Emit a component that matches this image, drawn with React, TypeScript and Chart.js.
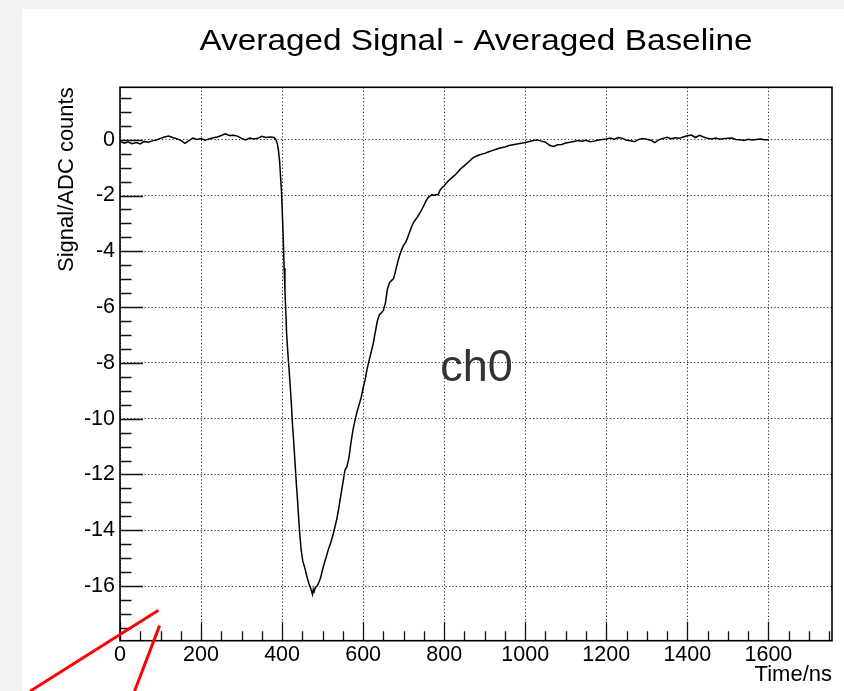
import { useEffect, useRef } from 'react';
import { Chart, registerables } from 'chart.js';

Chart.register(...registerables);

// ---- data ----
const timeNs = [
  0, 10, 20, 30, 40, 50, 60, 70, 80, 90,
  100, 110, 120, 130, 140, 150, 160, 170, 180, 190,
  200, 210, 220, 230, 240, 250, 260, 270, 280, 290,
  300, 310, 320, 330, 340, 350, 360, 370, 380, 384,
  388, 391, 394, 397, 399, 401, 403, 405, 407, 409,
  411, 414, 417, 420, 423, 426, 429, 432, 435, 438,
  441, 444, 447, 451, 456, 461, 466, 470, 473, 475,
  477, 479, 482, 486, 490, 495, 500, 505, 510, 515,
  520, 525, 530, 535, 540, 545, 550, 555, 560, 565,
  570, 575, 580, 585, 590, 595, 600, 605, 610, 615,
  620, 625, 630, 635, 640, 645, 650, 655, 660, 665,
  670, 675, 680, 685, 690, 695, 700, 705, 710, 715,
  720, 725, 730, 735, 740, 745, 750, 755, 760, 765,
  770, 775, 780, 785, 790, 795, 800, 810, 820, 830,
  840, 850, 860, 870, 880, 890, 900, 910, 920, 930,
  940, 950, 960, 970, 980, 990, 1000, 1010, 1020, 1030,
  1040, 1050, 1060, 1070, 1080, 1090, 1100, 1110, 1120, 1130,
  1140, 1150, 1160, 1170, 1180, 1190, 1200, 1210, 1220, 1230,
  1240, 1250, 1260, 1270, 1280, 1290, 1300, 1310, 1320, 1330,
  1340, 1350, 1360, 1370, 1380, 1390, 1400, 1410, 1420, 1430,
  1440, 1450, 1460, 1470, 1480, 1490, 1500, 1510, 1520, 1530,
  1540, 1550, 1560, 1570, 1580, 1590, 1600,
];

const signal = [
  -0.05, -0.12, -0.08, -0.14, -0.1, -0.15, -0.06, -0.09, -0.04, -0.01,
  0.05, 0.1, 0.13, 0.08, 0.04, -0.02, -0.13, -0.03, 0.06, 0.01,
  0.04, -0.02, 0.03, 0.07, 0.1, 0.15, 0.21, 0.15, 0.16, 0.13,
  0.05, -0.01, 0.06, 0.03, 0.05, 0.12, 0.08, 0.1, 0.08, 0.02,
  -0.12, -0.37, -0.8, -1.5, -2.0, -2.8, -3.6, -4.6, -5.4, -6.1,
  -6.9, -7.6, -8.2, -8.8, -9.5, -10.3, -10.9, -11.6, -12.3, -12.9,
  -13.6, -14.2, -14.7, -15.1, -15.35, -15.65, -15.9, -16.05, -16.2, -16.3,
  -16.12, -16.2, -16.05, -16.0, -15.9, -15.7, -15.4, -15.15, -14.9, -14.65,
  -14.45, -14.2, -13.9, -13.6, -13.2, -12.75, -12.3, -11.85, -11.72, -11.4,
  -10.85, -10.4, -10.05, -9.75, -9.5, -9.25, -8.9, -8.6, -8.2, -7.9,
  -7.6, -7.3, -6.9, -6.5, -6.28, -6.2, -6.12, -5.85, -5.35, -5.12,
  -5.05, -4.98, -4.7, -4.4, -4.15, -3.94, -3.78, -3.68, -3.5, -3.3,
  -3.1, -2.95, -2.85, -2.75, -2.62, -2.5, -2.35, -2.2, -2.08, -2.02,
  -1.97, -2.0, -1.96, -1.97, -1.8, -1.72, -1.65, -1.48, -1.35, -1.22,
  -1.05, -0.93, -0.8, -0.66, -0.58, -0.53, -0.49, -0.43, -0.38, -0.33,
  -0.29, -0.26, -0.21, -0.18, -0.15, -0.13, -0.1, -0.06, -0.03, -0.01,
  -0.05, -0.09, -0.2, -0.24, -0.18, -0.17, -0.12, -0.09, -0.06, -0.03,
  -0.05, -0.02, -0.07, -0.05, -0.01, 0.01, 0.03, 0.06, 0.02, 0.08,
  0.05, -0.02, -0.04, -0.07, 0.01, 0.04, 0.02, -0.02, -0.1, 0.0,
  0.05, 0.09, 0.04, 0.07, 0.05, 0.1, 0.14, 0.17, 0.08, 0.16,
  0.1, 0.05, 0.03, 0.06, 0.02, 0.04, 0.05, 0.06, 0.01, 0.0,
  -0.03, 0.02, -0.01, 0.01, 0.03, 0.0, 0.0,
];

const xMajorTicks = [0, 200, 400, 600, 800, 1000, 1200, 1400, 1600];
const yMajorTicks = [-16, -14, -12, -10, -8, -6, -4, -2, 0];
const xMinorStep = 50;
const yMinorStep = 0.5;
const xRange = [0, 1757];
const yRange = [-17.96, 1.88];

const titleText = 'Averaged Signal - Averaged Baseline';
const yTitleText = 'Signal/ADC counts';
const xTitleText = 'Time/ns';
const channelText = 'ch0';
const channelAnchor = [880, -8.65];

// red hand-drawn marks, in data coordinates
const redMarkA = [[-222, -19.77], [95, -16.87]];
const redMarkB = [[35.8, -19.77], [97.7, -17.42]];

const FONT = '"Liberation Sans", Arial, Helvetica, sans-serif';

const decorPlugin = {
  id: 'decor',
  beforeDraw(chart: any) {
    const ctx = chart.ctx;
    ctx.save();
    ctx.fillStyle = '#f2f2f2';
    ctx.fillRect(0, 0, chart.width, chart.height);
    ctx.fillStyle = '#ffffff';
    ctx.fillRect(22, 9, chart.width - 22, chart.height - 9);
    ctx.restore();
  },
  afterDatasetsDraw(chart: any) {
    const { ctx, chartArea: a, scales } = chart;
    const x = scales.x;
    const y = scales.y;
    ctx.save();

    // inner tick marks (major + minor)
    ctx.strokeStyle = '#111';
    ctx.lineWidth = 1.3;
    ctx.beginPath();
    const nx0 = Math.ceil(xRange[0] / xMinorStep);
    const nx1 = Math.floor(xRange[1] / xMinorStep);
    for (let k = nx0; k <= nx1; k++) {
      const v = k * xMinorStep;
      const px = Math.round(x.getPixelForValue(v)) + 0.5;
      const len = xMajorTicks.includes(v) ? 19 : 9.5;
      ctx.moveTo(px, a.bottom);
      ctx.lineTo(px, a.bottom - len);
    }
    const ny0 = Math.ceil(yRange[0] / yMinorStep);
    const ny1 = Math.floor(yRange[1] / yMinorStep);
    for (let k = ny0; k <= ny1; k++) {
      const v = k * yMinorStep;
      const py = Math.round(y.getPixelForValue(v)) + 0.5;
      const len = yMajorTicks.includes(v) ? 23 : 11.5;
      ctx.moveTo(a.left, py);
      ctx.lineTo(a.left + len, py);
    }
    ctx.stroke();

    // frame
    ctx.strokeStyle = '#000';
    ctx.lineWidth = 1.6;
    ctx.strokeRect(a.left, a.top, a.right - a.left, a.bottom - a.top);

    // channel label
    ctx.fillStyle = '#333333';
    ctx.font = `45px ${FONT}`;
    ctx.textAlign = 'center';
    ctx.textBaseline = 'alphabetic';
    ctx.fillText(channelText, x.getPixelForValue(channelAnchor[0]), y.getPixelForValue(channelAnchor[1]));

    // title (ROOT-style wide Helvetica)
    ctx.fillStyle = '#000';
    ctx.font = `29px ${FONT}`;
    ctx.translate((a.left + a.right) / 2, 50);
    ctx.scale(1.15, 1);
    ctx.fillText(titleText, 0, 0);
    ctx.restore();

    // red marks
    ctx.save();
    ctx.strokeStyle = '#ff0000';
    ctx.lineWidth = 3;
    ctx.lineCap = 'butt';
    for (const m of [redMarkA, redMarkB]) {
      ctx.beginPath();
      ctx.moveTo(x.getPixelForValue(m[0][0]), y.getPixelForValue(m[0][1]));
      ctx.lineTo(x.getPixelForValue(m[1][0]), y.getPixelForValue(m[1][1]));
      ctx.stroke();
    }
    ctx.restore();
  },
};

export default function App() {
  const ref = useRef<HTMLCanvasElement | null>(null);

  useEffect(() => {
    if (!ref.current) return;
    const chart = new Chart(ref.current, {
      type: 'line',
      data: {
        datasets: [
          {
            data: timeNs.map((t, i) => ({ x: t, y: signal[i] })),
            borderColor: '#000000',
            borderWidth: 1.5,
            pointRadius: 0,
            tension: 0,
            fill: false,
          },
        ],
      },
      options: {
        animation: false,
        responsive: false,
        layout: { padding: { top: 87.3, right: 12, bottom: 0, left: 0 } },
        plugins: {
          legend: { display: false },
          tooltip: { enabled: false },
          title: { display: false },
        },
        scales: {
          x: {
            type: 'linear',
            min: xRange[0],
            max: xRange[1],
            afterBuildTicks: (s: any) => {
              s.ticks = xMajorTicks.map((v) => ({ value: v }));
            },
            afterFit: (s: any) => {
              s.height = 50.3;
            },
            ticks: {
              color: '#000',
              font: { family: FONT, size: 21.5 },
              padding: 1.5,
              maxRotation: 0,
              autoSkip: false,
              callback: (v: any) => String(v),
            },
            grid: {
              color: '#2a2a2a',
              lineWidth: 1,
              drawTicks: false,
            },
            border: { display: false, dash: [1.2, 2.3] },
            title: {
              display: true,
              text: xTitleText,
              align: 'end',
              color: '#000',
              font: { family: FONT, size: 22 },
              padding: { top: 0, bottom: 2.5 },
            },
          },
          y: {
            type: 'linear',
            min: yRange[0],
            max: yRange[1],
            afterBuildTicks: (s: any) => {
              s.ticks = yMajorTicks.map((v) => ({ value: v }));
            },
            afterFit: (s: any) => {
              s.width = 120;
            },
            ticks: {
              color: '#000',
              font: { family: FONT, size: 21.5 },
              padding: 5,
              autoSkip: false,
              callback: (v: any) => String(v),
            },
            grid: {
              color: '#2a2a2a',
              lineWidth: 1,
              drawTicks: false,
            },
            border: { display: false, dash: [1.2, 2.3] },
            title: {
              display: true,
              text: yTitleText,
              align: 'end',
              color: '#000',
              font: { family: FONT, size: 22 },
              padding: { top: 54, bottom: 0 },
            },
          },
        },
      },
      plugins: [decorPlugin],
    } as any);
    return () => chart.destroy();
  }, []);

  return (
    <div style={{ position: 'absolute', left: 0, top: 0, width: 844, height: 691, background: '#f2f2f2' }}>
      <canvas ref={ref} width={844} height={691} style={{ display: 'block', width: 844, height: 691 }} />
    </div>
  );
}
